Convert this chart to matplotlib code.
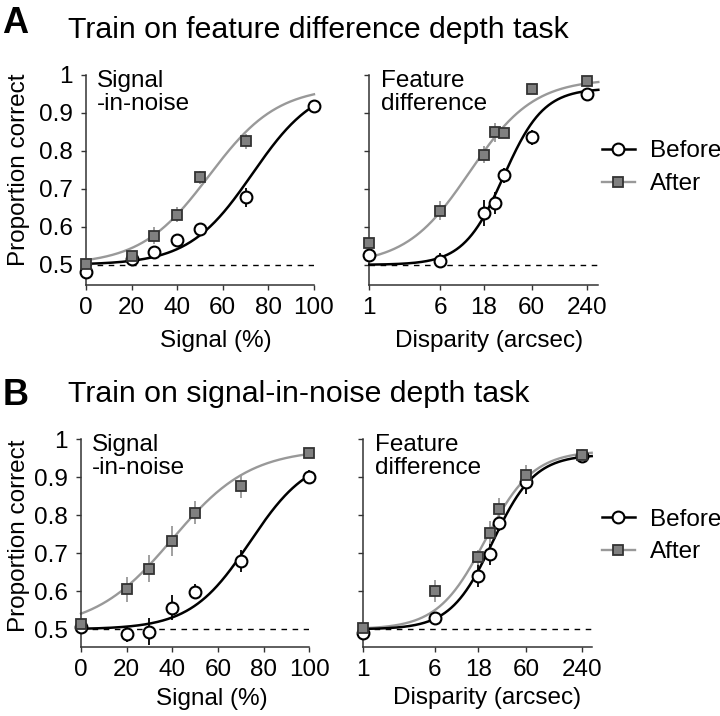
import numpy as np
import matplotlib
matplotlib.use("Agg")
import matplotlib.pyplot as plt
from matplotlib.lines import Line2D

plt.rcParams['font.family'] = ['Liberation Sans', 'DejaVu Sans']
plt.rcParams['font.size'] = 17.5

# ---- data ----
signal_x = [0, 20, 30, 40, 50, 70, 100]
disp_x = [1, 6, 18, 24, 30, 60, 240]

# A: train on feature difference
a_sig_before = [0.48, 0.515, 0.535, 0.566, 0.595, 0.678, 0.919]
a_sig_before_err = [0.01, 0.01, 0.012, 0.012, 0.012, 0.025, 0.01]
a_sig_after_x = [0, 20, 30, 40, 50, 70]
a_sig_after = [0.502, 0.522, 0.577, 0.632, 0.730, 0.825]
a_sig_after_err = [0.01, 0.01, 0.022, 0.02, 0.016, 0.02]

a_disp_before = [0.526, 0.511, 0.636, 0.663, 0.736, 0.836, 0.951]
a_disp_before_err = [0.01, 0.02, 0.035, 0.03, 0.02, 0.02, 0.01]
a_disp_after = [0.557, 0.642, 0.790, 0.849, 0.847, 0.962, 0.984]
a_disp_after_err = [0.01, 0.025, 0.022, 0.025, 0.01, 0.01, 0.01]

# B: train on signal-in-noise
b_sig_before = [0.505, 0.487, 0.494, 0.557, 0.599, 0.680, 0.902]
b_sig_before_err = [0.01, 0.02, 0.035, 0.033, 0.02, 0.028, 0.017]
b_sig_after = [0.514, 0.606, 0.660, 0.732, 0.807, 0.876, 0.965]
b_sig_after_err = [0.01, 0.033, 0.035, 0.04, 0.03, 0.03, 0.01]

b_disp_before = [0.49, 0.531, 0.641, 0.698, 0.780, 0.887, 0.957]
b_disp_before_err = [0.01, 0.01, 0.03, 0.03, 0.02, 0.03, 0.01]
b_disp_after = [0.503, 0.601, 0.690, 0.754, 0.816, 0.907, 0.960]
b_disp_after_err = [0.01, 0.03, 0.02, 0.03, 0.03, 0.025, 0.01]

# psychometric fits: (upper asymptote, midpoint, scale); disparity fits in log10 units
a_sig_fit_before = (0.98, 73, 14)
a_sig_fit_after = (0.97, 54, 15)
a_disp_fit_before = (0.965, 1.47, 0.22)
a_disp_fit_after = (0.99, 1.10, 0.35)
b_sig_fit_before = (0.96, 74, 13)
b_sig_fit_after = (0.975, 40, 17)
b_disp_fit_before = (0.96, 1.41, 0.23)
b_disp_fit_after = (0.97, 1.33, 0.26)

yticks = [0.5, 0.6, 0.7, 0.8, 0.9, 1.0]
ytick_labels = ['0.5', '0.6', '0.7', '0.8', '0.9', '1']
sig_ticks = [0, 20, 40, 60, 80, 100]
disp_ticks = [1, 6, 18, 60, 240]

BLACK = 'black'
GRAY = '#999999'
SQ_FACE = '#808080'
SQ_EDGE = '#333333'


def psy(x, top, mid, scale):
    return 0.5 + (top - 0.5) / (1 + np.exp(-(x - mid) / scale))


def draw_panel(ax, xb, yb, eb, xa, ya, ea, fit_b, fit_a, logx, xlim, ylim):
    if logx:
        ax.set_xscale('log')
        xs = np.logspace(0, np.log10(xlim[1]), 300)
        xf = np.log10(xs)
    else:
        xs = np.linspace(xlim[0], xlim[1], 300)
        xf = xs
    ax.axhline(0.5, color='black', lw=1, ls=(0, (4, 4)), zorder=1)
    ax.plot(xs, psy(xf, *fit_a), color=GRAY, lw=1.7, zorder=2, clip_on=False)
    ax.plot(xs, psy(xf, *fit_b), color=BLACK, lw=1.8, zorder=3, clip_on=False)
    ax.errorbar(xb, yb, yerr=eb, fmt='none', ecolor=BLACK, elinewidth=1.3,
                capsize=0, zorder=4, clip_on=False)
    ax.errorbar(xa, ya, yerr=ea, fmt='none', ecolor=GRAY, elinewidth=1.3,
                capsize=0, zorder=4, clip_on=False)
    ax.plot(xb, yb, 'o', ms=8.5, mfc='white', mec=BLACK, mew=1.5, zorder=5, clip_on=False)
    ax.plot(xa, ya, 's', ms=7.5, mfc=SQ_FACE, mec=SQ_EDGE, mew=1.3, zorder=6, clip_on=False)

    ax.set_xlim(*xlim)
    ax.set_ylim(*ylim)
    ax.set_yticks(yticks)
    ax.spines['top'].set_visible(False)
    ax.spines['right'].set_visible(False)
    for s in ('left', 'bottom'):
        ax.spines[s].set_color('#333333')
        ax.spines[s].set_linewidth(1.1)
    ax.tick_params(direction='out', length=3.5, width=1, color='#333333')
    ax.tick_params(axis='y', pad=6)
    ax.tick_params(axis='x', pad=5)
    ax.minorticks_off()


fig = plt.figure(figsize=(7.2, 7.16), dpi=100)

ax1 = fig.add_axes([0.1194, 0.6020, 0.3167, 0.2933])
ax2 = fig.add_axes([0.5129, 0.6020, 0.3181, 0.2933])
ax3 = fig.add_axes([0.1125, 0.0959, 0.3171, 0.2905])
ax4 = fig.add_axes([0.5046, 0.0959, 0.3172, 0.2905])

draw_panel(ax1, signal_x, a_sig_before, a_sig_before_err, a_sig_after_x, a_sig_after,
           a_sig_after_err, a_sig_fit_before, a_sig_fit_after, False, (0, 100), (0.447, 1.0))
draw_panel(ax2, disp_x, a_disp_before, a_disp_before_err, disp_x, a_disp_after,
           a_disp_after_err, a_disp_fit_before, a_disp_fit_after, True, (1, 322), (0.447, 1.0))
draw_panel(ax3, signal_x, b_sig_before, b_sig_before_err, signal_x, b_sig_after,
           b_sig_after_err, b_sig_fit_before, b_sig_fit_after, False, (0, 100), (0.4526, 1.0))
draw_panel(ax4, disp_x, b_disp_before, b_disp_before_err, disp_x, b_disp_after,
           b_disp_after_err, b_disp_fit_before, b_disp_fit_after, True, (1, 309), (0.4526, 1.0))

for ax in (ax1, ax3):
    ax.set_xticks(sig_ticks)
    ax.set_yticklabels(ytick_labels)
    ax.set_ylabel('Proportion correct')
    ax.set_xlabel('Signal (%)')
    ax.text(0.048, 1.025, 'Signal\n-in-noise', transform=ax.transAxes,
            ha='left', va='top', linespacing=1.05)
for ax in (ax2, ax4):
    ax.set_xticks(disp_ticks)
    ax.set_xticklabels([str(t) for t in disp_ticks])
    ax.set_yticklabels([])
    ax.set_xlabel('Disparity (arcsec)')
    ax.text(0.05, 1.025, 'Feature\ndifference', transform=ax.transAxes,
            ha='left', va='top', linespacing=1.05)

ax1.yaxis.set_label_coords(-0.245, 0.548)
ax3.yaxis.set_label_coords(-0.223, 0.538)
ax1.xaxis.set_label_coords(0.57, -0.214)
ax3.xaxis.set_label_coords(0.575, -0.197)
ax2.xaxis.set_label_coords(0.524, -0.214)
ax4.xaxis.set_label_coords(0.54, -0.192)

# titles and panel letters
fig.text(0.003, 0.954, 'A', fontsize=26, fontweight='bold', ha='left', va='baseline')
fig.text(0.094, 0.947, 'Train on feature difference depth task', fontsize=21.8,
         ha='left', va='baseline')
fig.text(0.003, 0.4344, 'B', fontsize=26, fontweight='bold', ha='left', va='baseline')
fig.text(0.094, 0.4385, 'Train on signal-in-noise depth task', fontsize=21.8,
         ha='left', va='baseline')

# legends
handles = [
    Line2D([], [], color=BLACK, lw=1.8, marker='o', ms=8.5, mfc='white', mec=BLACK, mew=1.5),
    Line2D([], [], color=GRAY, lw=1.7, marker='s', ms=7.5, mfc=SQ_FACE, mec=SQ_EDGE, mew=1.3),
]
for ypos in (0.766, 0.2514):
    fig.legend(handles, ['Before', 'After'], loc='center left',
               bbox_to_anchor=(0.836, ypos), bbox_transform=fig.transFigure,
               frameon=False, borderpad=0, borderaxespad=0, handlelength=1.36,
               handletextpad=0.6, labelspacing=0.45, fontsize=17.5)

fig.savefig('out.png', dpi=100)
